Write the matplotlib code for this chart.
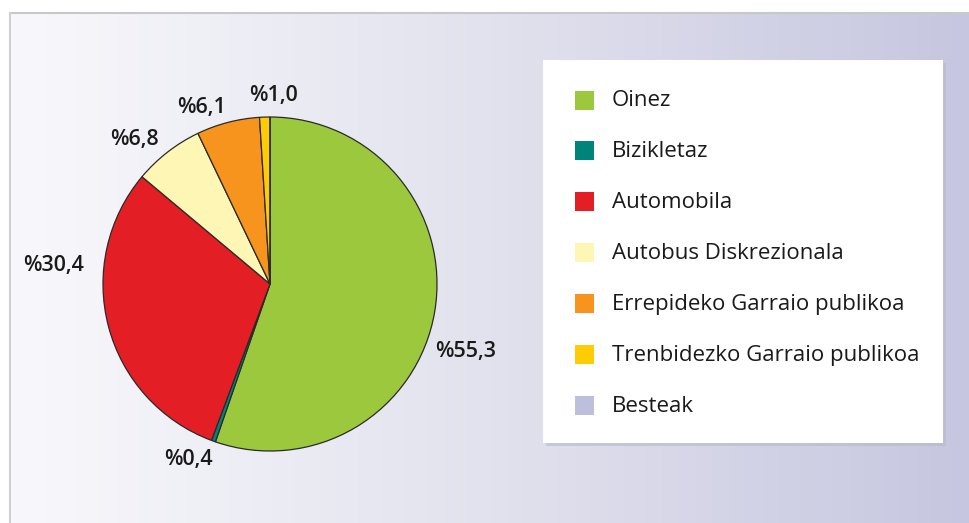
import matplotlib
matplotlib.use("Agg")
import matplotlib.pyplot as plt
import numpy as np
from matplotlib.patches import Rectangle
from matplotlib.colors import LinearSegmentedColormap

categories = ["Oinez", "Bizikletaz", "Automobila", "Autobus Diskrezionala",
              "Errepideko Garraio publikoa", "Trenbidezko Garraio publikoa", "Besteak"]
values = [55.3, 0.4, 30.4, 6.8, 6.1, 1.0, 0.0]
labels = ["%55,3", "%0,4", "%30,4", "%6,8", "%6,1", "%1,0", ""]
colors = ["#9bc83c", "#00837a", "#e31e25", "#fdf6b4", "#f7941e", "#ffcb05", "#bcc0dc"]

plt.rcParams['font.family'] = ['Open Sans', 'DejaVu Sans']

W, H = 969, 523
fig = plt.figure(figsize=(W / 100, H / 100), dpi=100)

# background gradient panel
bg = fig.add_axes([0, 0, 1, 1])
bg.set_xlim(0, W)
bg.set_ylim(H, 0)
bg.axis("off")
grad = np.linspace(0, 1, 256)[None, :]
cmap = LinearSegmentedColormap.from_list("bg", ["#f8f8fc", "#e2e2ee", "#c6c6e0"])
bg.imshow(grad, cmap=cmap, extent=[10, W, H, 13], aspect="auto", zorder=0)
bg.plot([10, W], [13, 13], color="#c8c8c8", lw=1.5, zorder=1)
bg.plot([10, 10], [13, H], color="#d0d0d0", lw=1.5, zorder=1)

# legend box with shadow
bg.add_patch(Rectangle((546, 63), 400, 383, facecolor="#b8b8c8", edgecolor="none", zorder=1, alpha=0.6))
bg.add_patch(Rectangle((543, 60), 400, 383, facecolor="white", edgecolor="none", zorder=2))
y0 = 100
dy = 50.9
for i, (c, col) in enumerate(zip(categories, colors)):
    y = y0 + i * dy
    bg.add_patch(Rectangle((575, y - 9.5), 19, 19, facecolor=col, edgecolor="none", zorder=3))
    bg.text(612, y + 1, c, fontsize=16, color="#1a1a1a", va="center", ha="left", zorder=3)

# pie axes
cx, cy, r = 270, 284, 167
ax = fig.add_axes([(cx - r) / W, 1 - (cy + r) / H, 2 * r / W, 2 * r / H])
wedges, _ = ax.pie(values, colors=colors, startangle=90, counterclock=False,
                   wedgeprops=dict(edgecolor="#2a2a2a", linewidth=0.9), radius=1.0)
ax.set_aspect("auto")
ax.set_xlim(-1, 1)
ax.set_ylim(-1, 1)
ax.axis("off")

# percentage labels
label_pos = {
    "%55,3": (466, 351),
    "%0,4": (188, 460),
    "%30,4": (54, 266),
    "%6,8": (134, 140),
    "%6,1": (202, 107),
    "%1,0": (274, 96),
}
for lab in labels:
    if lab:
        x, y = label_pos[lab]
        bg.text(x, y, lab, fontsize=15.5, color="#1a1a1a", ha="center", va="center",
                fontweight="semibold", zorder=5)

fig.savefig("out.png", dpi=100)
